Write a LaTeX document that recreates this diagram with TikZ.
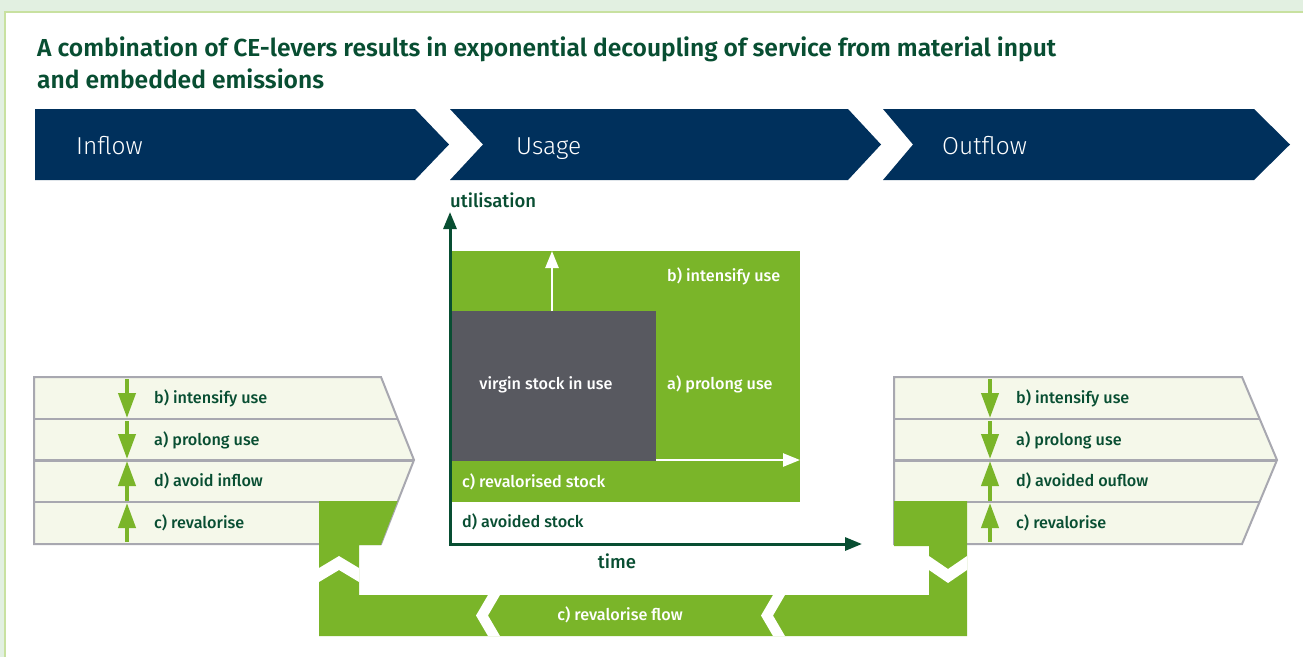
\documentclass[tikz,border=0pt]{standalone}
\usepackage{fontspec}
\setmainfont{Fira Sans}
\IfFontExistsTF{Fira Sans Light}{\newfontfamily\thinfont{Fira Sans Light}}{\newfontfamily\thinfont{Fira Sans}}
\IfFontExistsTF{Fira Sans Medium}{\newfontfamily\midfont{Fira Sans Medium}}{\newfontfamily\midfont{Fira Sans}}
\IfFontExistsTF{Fira Sans SemiBold}{\newfontfamily\heavyfont{Fira Sans SemiBold}}{\newfontfamily\heavyfont{Fira Sans Bold}}
\usetikzlibrary{arrows.meta}

\definecolor{navy}{RGB}{0,48,92}
\definecolor{leaf}{RGB}{122,181,41}
\definecolor{pine}{RGB}{8,78,50}
\definecolor{slate}{RGB}{88,89,96}
\definecolor{cream}{RGB}{245,248,234}
\definecolor{rim}{RGB}{168,168,176}
\definecolor{mint}{RGB}{226,240,225}
\definecolor{framegreen}{RGB}{200,225,160}

\begin{document}
\begin{tikzpicture}[x=1pt,y=-1pt,
  phase/.style={font=\thinfont\fontsize{24.5}{24.5}\selectfont, text=white, anchor=base west, inner sep=0pt},
  lever/.style={font=\midfont\fontsize{16.2}{16.2}\selectfont, text=pine, anchor=base west, inner sep=0pt},
  inlbl/.style={font=\midfont\fontsize{16.2}{16.2}\selectfont, text=white, anchor=base west, inner sep=0pt},
  axlbl/.style={font=\midfont\fontsize{18.5}{18.5}\selectfont, text=pine, inner sep=0pt},
  headline/.style={font=\heavyfont\fontsize{24.6}{24.6}\selectfont, text=pine, anchor=base west, inner sep=0pt},
  stripe/.style={fill=cream, draw=rim, line width=2pt},
  lvarrow/.style={leaf, line width=4pt, -{Triangle[length=25pt,width=17pt]}},
  wharrow/.style={white, line width=2.5pt, -{Triangle[length=17pt,width=13pt]}},
  axis/.style={pine, line width=3pt}]

%rahmen
\useasboundingbox (0,0) rectangle (1303,657);
\fill[mint] (0,0) rectangle (1303,657);
\fill[white] (5,12) rectangle (1303,657);
\draw[framegreen, line width=1.5pt] (5,657) -- (5,12) -- (1303,12);

%titel
\node[headline] (title) at (37,56) {A combination of CE-levers results in exponential decoupling of service from material input};
\node[headline] (title2) at (37,88) {and embedded emissions};

%phasen
\fill[navy] (35,109) -- (415,109) -- (449,144.5) -- (415,180) -- (35,180) -- cycle;
\fill[navy] (450,109) -- (848,109) -- (881,144.5) -- (848,180) -- (450,180) -- (483,144.5) -- cycle;
\fill[navy] (883,109) -- (1254,109) -- (1290,144.5) -- (1254,180) -- (883,180) -- (913,144.5) -- cycle;
\node[phase] (inflow) at (76,154) {Inflow};
\node[phase] (usage) at (516,154) {Usage};
\node[phase] (outflow) at (942,154) {Outflow};

%linke streifen
\draw[stripe] (34,377) -- (381,377) -- (414,460) -- (381,544) -- (34,544) -- cycle;
\draw[rim, line width=2pt] (34,419) -- (397.6,419);
\draw[rim, line width=3pt] (34,460) -- (414,460);
\draw[rim, line width=2pt] (34,502) -- (397.6,502);
\draw[lvarrow] (127,379) -- (127,418);
\draw[lvarrow] (127,421) -- (127,459);
\draw[lvarrow] (127,501) -- (127,461);
\draw[lvarrow] (127,542) -- (127,503);
\node[lever] (lin1) at (154,403) {b) intensify use};
\node[lever] (lin2) at (154,445) {a) prolong use};
\node[lever] (lin3) at (154,486) {d) avoid inflow};
\node[lever] (lin4) at (154,528) {c) revalorise};

%rechte streifen
\draw[stripe] (894,377) -- (1242,377) -- (1277,460) -- (1242,544) -- (894,544) -- cycle;
\draw[rim, line width=2pt] (894,419) -- (1259.7,419);
\draw[rim, line width=3pt] (894,460) -- (1277,460);
\draw[rim, line width=2pt] (894,502) -- (1259.5,502);
\draw[lvarrow] (990,379) -- (990,418);
\draw[lvarrow] (990,421) -- (990,459);
\draw[lvarrow] (990,501) -- (990,461);
\draw[lvarrow] (990,542) -- (990,503);
\node[lever] (lout1) at (1016,403) {b) intensify use};
\node[lever] (lout2) at (1016,445) {a) prolong use};
\node[lever] (lout3) at (1016,486) {d) avoided ouflow};
\node[lever] (lout4) at (1016,528) {c) revalorise};

%rueckfluss
\fill[leaf] (319,501) -- (397.6,501) -- (380.8,545) -- (359,545) -- (359,595) -- (929,595) -- (929,546)
  -- (894,546) -- (894,501) -- (967,501) -- (967,636) -- (319,636) -- cycle;
\fill[white] (319,568) -- (339,556) -- (359,568) -- (359,582) -- (339,570) -- (319,582) -- cycle;
\fill[white] (929,556) -- (948,569) -- (967,556) -- (967,570) -- (948,583) -- (929,570) -- cycle;
\fill[white] (488,595) -- (476,615.5) -- (488,636) -- (500,636) -- (488,615.5) -- (500,595) -- cycle;
\fill[white] (773,595) -- (761,615.5) -- (773,636) -- (785,636) -- (773,615.5) -- (785,595) -- cycle;
\node[inlbl, anchor=base] (flow) at (620,620) {c) revalorise flow};

%bestand
\fill[leaf] (450,251) rectangle (800,502);
\fill[slate] (450,311) rectangle (656,461);
\coordinate (upfrom) at (552,311);
\coordinate (upto) at (552,251);
\coordinate (rfrom) at (656,460);
\coordinate (rto) at (800,460);
\draw[wharrow] (upfrom) -- (upto);
\draw[wharrow] (rfrom) -- (rto);
\node[inlbl] (intens) at (667,281) {b) intensify use};
\node[inlbl] (prolong) at (667,389) {a) prolong use};
\node[inlbl, anchor=base] (virgin) at (546,389) {virgin stock in use};
\node[inlbl] (reval) at (462,487) {c) revalorised stock};
\node[lever] (avoid) at (462,527) {d) avoided stock};

%achsen
\coordinate (o) at (450,544);
\coordinate (ytop) at (450,212);
\coordinate (xend) at (862,544);
\draw[axis, {Triangle[length=17pt,width=13pt]}-{Triangle[length=17pt,width=13pt]}] (ytop) -- (o) -- (xend);
\node[axlbl, anchor=base west] (util) at (450,207) {utilisation};
\node[axlbl, anchor=base] (time) at (617,568) {time};
\end{tikzpicture}
\end{document}
